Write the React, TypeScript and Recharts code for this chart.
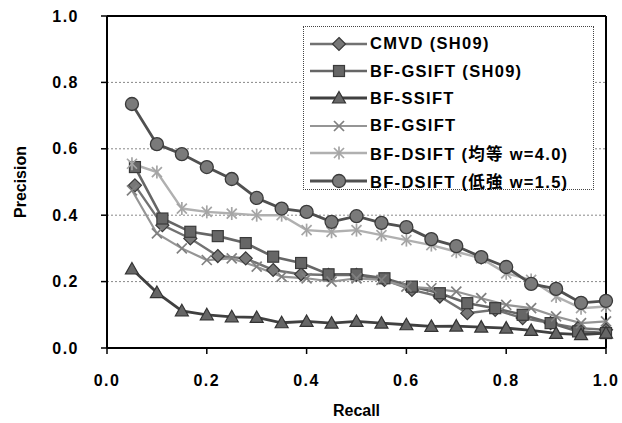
import React from 'react';
import {
  LineChart,
  Line,
  XAxis,
  YAxis,
  CartesianGrid,
  ReferenceLine,
  Legend,
} from 'recharts';

// recall sampling: our runs use 0.05 steps, the SH09 curves use 1/18 steps
const RECALL = [0.05, 0.1, 0.15, 0.2, 0.25, 0.3, 0.35, 0.4, 0.45, 0.5, 0.55, 0.6, 0.65, 0.7, 0.75, 0.8, 0.85, 0.9, 0.95, 1.0];
const RECALL_SH09 = [0.056, 0.111, 0.167, 0.222, 0.278, 0.333, 0.389, 0.444, 0.5, 0.556, 0.611, 0.667, 0.722, 0.778, 0.833, 0.889, 0.944, 1.0];

const CMVD = [0.49, 0.37, 0.33, 0.277, 0.27, 0.235, 0.222, 0.22, 0.22, 0.205, 0.175, 0.155, 0.105, 0.115, 0.09, 0.075, 0.06, 0.055];
const GSIFT_SH09 = [0.545, 0.39, 0.35, 0.337, 0.316, 0.275, 0.256, 0.222, 0.222, 0.21, 0.185, 0.165, 0.135, 0.12, 0.1, 0.075, 0.05, 0.045];
const SSIFT = [0.238, 0.167, 0.112, 0.1, 0.094, 0.092, 0.076, 0.08, 0.075, 0.08, 0.075, 0.07, 0.065, 0.066, 0.063, 0.06, 0.053, 0.044, 0.04, 0.045];
const GSIFT = [0.475, 0.345, 0.3, 0.265, 0.27, 0.245, 0.215, 0.21, 0.2, 0.21, 0.205, 0.185, 0.18, 0.17, 0.15, 0.13, 0.12, 0.095, 0.075, 0.08];
const DSIFT_EQ = [0.555, 0.53, 0.42, 0.41, 0.405, 0.4, 0.4, 0.355, 0.35, 0.355, 0.34, 0.325, 0.31, 0.29, 0.27, 0.225, 0.205, 0.155, 0.12, 0.125];
const DSIFT_LH = [0.735, 0.614, 0.584, 0.545, 0.509, 0.452, 0.42, 0.41, 0.38, 0.397, 0.377, 0.364, 0.328, 0.307, 0.274, 0.244, 0.193, 0.178, 0.136, 0.142];

const X_TICKS = [0, 0.2, 0.4, 0.6, 0.8, 1.0];
const Y_TICKS = [0, 0.2, 0.4, 0.6, 0.8, 1.0];

const toRows = (xs: number[], ys: number[]) => xs.map((r, i) => ({ r, p: ys[i] }));

const FONT = '"Liberation Sans", Arial, "Noto Sans CJK JP", sans-serif';

type MarkerKind = 'diamond' | 'square' | 'triangle' | 'cross' | 'star' | 'circle';

const Marker = ({ kind, cx, cy }: { kind: MarkerKind; cx: number; cy: number }) => {
  switch (kind) {
    case 'diamond':
      return <polygon points={`${cx},${cy - 6.5} ${cx + 6.5},${cy} ${cx},${cy + 6.5} ${cx - 6.5},${cy}`} fill="#777" stroke="#3a3a3a" strokeWidth={1.2} />;
    case 'square':
      return <rect x={cx - 5.5} y={cy - 5.5} width={11} height={11} fill="#666" stroke="#3a3a3a" strokeWidth={1.2} />;
    case 'triangle':
      return <polygon points={`${cx},${cy - 6.5} ${cx + 6.5},${cy + 5} ${cx - 6.5},${cy + 5}`} fill="#666" stroke="#333" strokeWidth={1.2} />;
    case 'cross':
      return (
        <g stroke="#808080" strokeWidth={1.7}>
          <line x1={cx - 5} y1={cy - 5} x2={cx + 5} y2={cy + 5} />
          <line x1={cx - 5} y1={cy + 5} x2={cx + 5} y2={cy - 5} />
        </g>
      );
    case 'star':
      return (
        <g stroke="#a5a5a5" strokeWidth={1.7}>
          <line x1={cx - 5} y1={cy - 5} x2={cx + 5} y2={cy + 5} />
          <line x1={cx - 5} y1={cy + 5} x2={cx + 5} y2={cy - 5} />
          <line x1={cx} y1={cy - 6.5} x2={cx} y2={cy + 6.5} />
        </g>
      );
    default:
      return <circle cx={cx} cy={cy} r={6.5} fill="#7a7a7a" stroke="#3a3a3a" strokeWidth={1.3} />;
  }
};

const SERIES = [
  { name: 'CMVD (SH09)', data: toRows(RECALL_SH09, CMVD), color: '#727272', width: 2.4, kind: 'diamond' as MarkerKind },
  { name: 'BF-GSIFT (SH09)', data: toRows(RECALL_SH09, GSIFT_SH09), color: '#666', width: 2.6, kind: 'square' as MarkerKind },
  { name: 'BF-SSIFT', data: toRows(RECALL, SSIFT), color: '#404040', width: 2.8, kind: 'triangle' as MarkerKind },
  { name: 'BF-GSIFT', data: toRows(RECALL, GSIFT), color: '#959595', width: 2.2, kind: 'cross' as MarkerKind },
  { name: 'BF-DSIFT (均等 w=4.0)', data: toRows(RECALL, DSIFT_EQ), color: '#b0b0b0', width: 2.4, kind: 'star' as MarkerKind },
  { name: 'BF-DSIFT (低強 w=1.5)', data: toRows(RECALL, DSIFT_LH), color: '#505050', width: 2.8, kind: 'circle' as MarkerKind },
];

const LegendBox = () => (
  <div
    style={{
      width: 291,
      height: 164,
      border: '1px dotted #444',
      background: '#fff',
      boxSizing: 'border-box',
      paddingTop: 3,
      fontFamily: FONT,
    }}
  >
    {SERIES.map((s) => (
      <div key={s.name} style={{ display: 'flex', alignItems: 'center', height: 27.4 }}>
        <svg width={66} height={16} style={{ flex: 'none' }}>
          <line x1={6} y1={8} x2={63} y2={8} stroke={s.color} strokeWidth={s.width} />
          <Marker kind={s.kind} cx={35} cy={8} />
        </svg>
        <span style={{ fontSize: 16.5, fontWeight: 'bold', letterSpacing: 1.3, whiteSpace: 'nowrap', color: '#000' }}>
          {s.name}
        </span>
      </div>
    ))}
  </div>
);

export default function App() {
  const tickStyle = { fontSize: 16, fontWeight: 'bold', fill: '#000', fontFamily: FONT, letterSpacing: 1.5 };
  return (
    <div style={{ width: 622, height: 423, background: '#fff' }}>
      <style>{'body{margin:0}'}</style>
      <LineChart width={622} height={423} margin={{ top: 16, right: 16, left: 0, bottom: 25 }}>
        <CartesianGrid horizontal vertical={false} stroke="#888" strokeDasharray="2 2" />
        <XAxis
          type="number"
          dataKey="r"
          domain={[0, 1]}
          ticks={X_TICKS}
          tickFormatter={(v: number) => v.toFixed(1)}
          height={50}
          tickSize={6}
          tickMargin={21}
          tick={tickStyle}
          axisLine={{ stroke: '#000', strokeWidth: 2 }}
          tickLine={{ stroke: '#000', strokeWidth: 1.5 }}
          allowDuplicatedCategory={false}
          label={{ value: 'Recall', position: 'insideBottom', offset: -18, style: { fontSize: 16, fontWeight: 'bold', fill: '#000', fontFamily: FONT } }}
        />
        <YAxis
          type="number"
          domain={[0, 1]}
          ticks={Y_TICKS}
          tickFormatter={(v: number) => v.toFixed(1)}
          width={107}
          tickSize={6}
          tickMargin={22}
          tick={tickStyle}
          axisLine={{ stroke: '#000', strokeWidth: 2 }}
          tickLine={{ stroke: '#000', strokeWidth: 1.5 }}
          label={{ value: 'Precision', angle: -90, position: 'insideLeft', offset: 20, style: { fontSize: 16, fontWeight: 'bold', fill: '#000', fontFamily: FONT, textAnchor: 'middle' } }}
        />
        <ReferenceLine y={1} stroke="#000" strokeWidth={2} />
        <ReferenceLine x={1} stroke="#000" strokeWidth={2} />
        {SERIES.map((s) => (
          <Line
            key={s.name}
            name={s.name}
            data={s.data}
            dataKey="p"
            type="linear"
            stroke={s.color}
            strokeWidth={s.width}
            isAnimationActive={false}
            dot={(props: any) => <Marker key={`${s.name}-${props.index}`} kind={s.kind} cx={props.cx} cy={props.cy} />}
            activeDot={false}
          />
        ))}
        <Legend
          layout="vertical"
          align="center"
          verticalAlign="middle"
          content={() => <LegendBox />}
          wrapperStyle={{ left: 303, top: 26, width: 291, height: 164 }}
        />
      </LineChart>
    </div>
  );
}
